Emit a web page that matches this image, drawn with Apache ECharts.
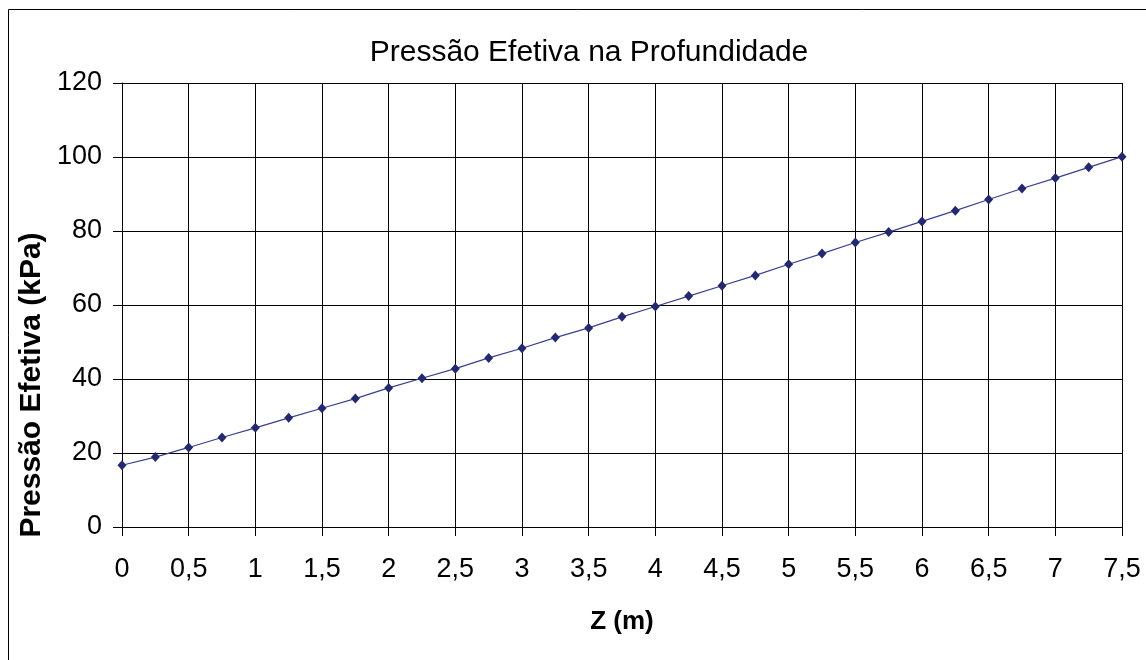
<!DOCTYPE html>
<html>
<head>
<meta charset="utf-8">
<script src="https://cdn.jsdelivr.net/npm/echarts@6/dist/echarts.min.js"></script>
<style>html,body{margin:0;padding:0;background:#fff;}#c{width:1146px;height:660px;}</style>
</head>
<body>
<div id="c"></div>
<script>
const depths = [0,0.25,0.5,0.75,1,1.25,1.5,1.75,2,2.25,2.5,2.75,3,3.25,3.5,3.75,4,4.25,4.5,4.75,5,5.25,5.5,5.75,6,6.25,6.5,6.75,7,7.25,7.5];
const pressures = [16.7,18.9,21.5,24.2,26.8,29.5,32.1,34.7,37.6,40.2,42.8,45.7,48.3,51.2,53.8,56.8,59.6,62.4,65.2,68.0,71.0,73.9,76.9,79.7,82.6,85.5,88.5,91.5,94.3,97.2,100.1];
const titleText = 'Pressão Efetiva na Profundidade';
const xName = 'Z (m)';
const yName = 'Pressão Efetiva (kPa)';

const FONT = '"Liberation Sans", Arial, sans-serif';
const chart = echarts.init(document.getElementById('c'), null, {renderer: 'canvas'});
chart.setOption({
  animation: false,
  backgroundColor: '#fff',
  title: {
    text: titleText,
    left: 584, top: 33, textAlign: 'center',
    textStyle: {fontFamily: FONT, fontSize: 30, fontWeight: 'normal', color: '#000'}
  },
  graphic: [
    {type: 'rect', shape: {x: 8.5, y: 9.5, width: 1200, height: 700}, style: {fill: 'none', stroke: '#000', lineWidth: 1}, z: -1},
    {type: 'text', x: 32, y: 385, rotation: Math.PI / 2,
     style: {text: yName, fontFamily: FONT, fontSize: 30, fontWeight: 'bold', fill: '#000', textAlign: 'center', textVerticalAlign: 'middle'}}
  ],
  grid: {left: 122, right: 24, top: 83, bottom: 133, show: false},
  xAxis: {
    type: 'value', min: 0, max: 7.5, interval: 0.5,
    name: xName, nameLocation: 'middle', nameGap: 82,
    nameTextStyle: {fontFamily: FONT, fontSize: 26, fontWeight: 'bold', color: '#000'},
    axisLine: {show: true, lineStyle: {color: '#000', width: 1}},
    axisTick: {show: true, length: 9, lineStyle: {color: '#000'}},
    axisLabel: {fontFamily: FONT, fontSize: 27, color: '#000', margin: 29,
      formatter: v => String(v).replace('.', ',')},
    splitLine: {show: true, lineStyle: {color: '#000', width: 1}}
  },
  yAxis: {
    type: 'value', min: 0, max: 120, interval: 20,
    axisLine: {show: true, lineStyle: {color: '#000', width: 1}},
    axisTick: {show: true, length: 9, lineStyle: {color: '#000'}},
    axisLabel: {fontFamily: FONT, fontSize: 27, color: '#000', margin: 20},
    splitLine: {show: true, lineStyle: {color: '#000', width: 1}}
  },
  series: [{
    type: 'line',
    data: depths.map((d, i) => [d, pressures[i]]),
    symbol: 'diamond', symbolSize: [9, 10],
    itemStyle: {color: '#24286F'},
    lineStyle: {color: '#3A3E8E', width: 1.2},
    clip: false
  }]
});
</script>
</body>
</html>
